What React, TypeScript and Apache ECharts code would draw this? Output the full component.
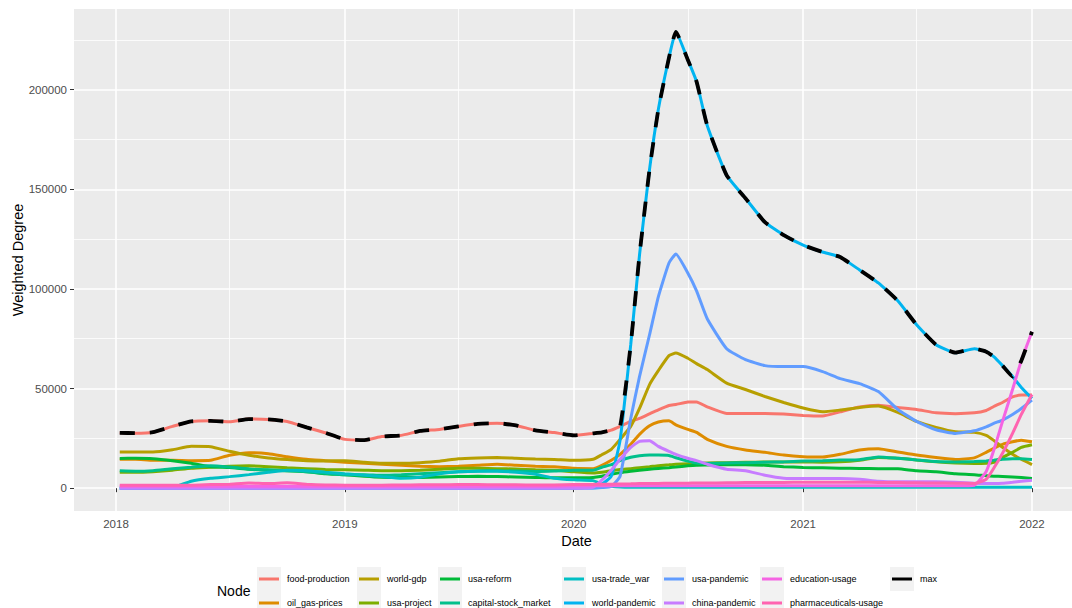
import React, { useEffect, useRef } from "react";
import * as echarts from "echarts";

const dates = [
  "2018-01-07", "2018-02-01", "2018-03-01", "2018-04-01", "2018-05-01", "2018-06-01",
  "2018-07-01", "2018-08-01", "2018-09-01", "2018-10-01", "2018-11-01", "2018-12-01",
  "2019-01-01", "2019-02-01", "2019-03-01", "2019-04-01", "2019-05-01", "2019-06-01",
  "2019-07-01", "2019-08-01", "2019-09-01", "2019-10-01", "2019-11-01", "2019-12-01",
  "2020-01-01", "2020-02-01", "2020-02-15", "2020-03-01", "2020-03-15", "2020-04-01",
  "2020-04-15", "2020-05-01", "2020-05-15", "2020-06-01", "2020-06-12", "2020-07-01",
  "2020-07-15", "2020-08-01", "2020-09-01", "2020-10-01", "2020-11-01", "2020-12-01",
  "2021-01-01", "2021-02-01", "2021-03-01", "2021-04-01", "2021-05-01", "2021-06-01",
  "2021-07-01", "2021-08-01", "2021-09-01", "2021-10-01", "2021-10-20", "2021-11-01",
  "2021-11-15", "2021-12-01", "2021-12-15", "2022-01-01",
];

const foodProduction = [
  27800, 27600, 28100, 31000, 33500, 33800, 33300, 34700, 34500, 33500, 30500, 27800,
  24500, 24100, 25900, 26500, 28700, 29500, 31000, 32300, 32600, 31500, 29000, 27900,
  26500, 27500, 28000, 29100, 31000, 33500, 35000, 37300, 39300, 41500, 42000, 43200,
  43300, 40800, 37500, 37500, 37500, 37200,
  36500, 36200, 38300, 40800, 41600, 40500, 39500, 37800, 37400, 37800, 39000, 41000,
  43000, 45800, 46700, 46800,
];
const oilGasPrices = [
  14500, 14500, 14000, 14000, 13800, 14000, 16500, 17800, 17300, 15800, 14500, 13800,
  13000, 12500, 12000, 11500, 11000, 10800, 11000, 11500, 12000, 11500, 11000, 10800,
  10000, 9800, 11500, 14000, 17000, 22000, 27000, 31300, 33200, 33800, 31800, 29500,
  28000, 24500, 21000, 19200, 18000, 16600,
  15800, 15600, 17000, 19200, 19800, 18200, 16600, 15400, 14400, 15200, 18000, 20000,
  22000, 23300, 24100, 23300,
];
const worldGdp = [
  18200, 18200, 18200, 19300, 21000, 20800, 18500, 16500, 15200, 14400, 13800, 13700,
  13800, 13000, 12500, 12500, 12800, 13500, 14800, 15200, 15400, 15000, 14600, 14400,
  14000, 14500, 16800, 19500, 24500, 31000, 40000, 52000, 59000, 66500, 67800, 65200,
  62500, 59500, 52700, 49500, 46000, 43000,
  40200, 38300, 39200, 40500, 41200, 38000, 33500, 30500, 28300, 28000, 26500, 24000,
  20500, 17000, 14500, 11800,
];
const usaProject = [
  8000, 8000, 8300, 9000, 10000, 10500, 11000, 11200, 10800, 10200, 9800, 9400,
  9200, 9000, 8800, 8800, 9000, 9500, 10000, 10000, 9800, 9600, 9200, 9000,
  8200, 7600, 8000, 8800, 9400, 9800, 10300, 10800, 11300, 11700, 12000, 12300,
  12400, 12600, 12800, 13000, 13100, 13200,
  13200, 13000, 13200, 14000, 15400, 15000, 14200, 13200, 12600, 12400, 12500, 13000,
  15500, 18000, 20500, 21800,
];
const usaReform = [
  14900, 15000, 14800, 13800, 12500, 10800, 10400, 9500, 9000, 8800, 8300, 7300,
  6800, 6000, 5500, 5400, 5400, 5600, 5800, 6000, 5800, 5600, 5400, 5200,
  5200, 5400, 6000, 7000, 7800, 8500, 9000, 9500, 9900, 10300, 10600, 11200,
  11500, 11600, 11800, 11800, 11500, 10800,
  10400, 10200, 10000, 9900, 9800, 9700, 8700, 8200, 7200, 6800, 6200, 6000,
  5900, 5600, 5300, 4900,
];
const capitalStockMarket = [
  8700, 8500, 8800, 9800, 10500, 11300, 10600, 9600, 9200, 8800, 8300, 7500,
  6800, 6800, 6500, 6800, 7300, 7800, 8200, 8600, 8800, 8600, 8400, 8600,
  9000, 9000, 10500, 11800, 13800, 15500, 16300, 16600, 16600, 16400, 15300, 13600,
  12600, 12400, 12600, 12800, 13000, 13200,
  13600, 13800, 14100, 14300, 15700, 15000, 14200, 13400, 13200, 13400, 13700, 14000,
  14500, 14800, 14800, 14400,
];
const usaTradeWar = [
  0, 0, 0, 300, 3500, 5000, 5800, 6800, 8000, 9000, 8800, 8000,
  7200, 6500, 5800, 5000, 5500, 7200, 8200, 8500, 8500, 8000, 7000, 5000,
  4200, 3800, 2000, 1000, 600, 500, 500, 500, 500, 500, 500, 500,
  500, 500, 500, 500, 500, 500,
  500, 500, 500, 500, 500, 500, 500, 500, 500, 500, 500, 500,
  500, 500, 500, 500,
];
const worldPandemic = [
  0, 0, 0, 0, 0, 0, 0, 0, 0, 0, 0, 0,
  0, 0, 0, 0, 0, 0, 0, 0, 0, 0, 0, 0,
  0, 800, 2000, 6000, 24000, 72000, 117000, 160000, 190000, 216000, 229000, 215000,
  204000, 182000, 157000, 145500, 133500, 127000,
  122000, 118500, 116000, 109500, 103000, 94000, 82000, 72000, 68000, 70000, 68500, 66000,
  61500, 56000, 50500, 45000,
];
const usaPandemic = [
  0, 0, 0, 0, 0, 0, 0, 0, 0, 0, 0, 0,
  0, 0, 0, 0, 0, 0, 0, 0, 0, 0, 0, 0,
  0, 0, 300, 800, 6000, 35000, 56000, 77000, 96000, 113000, 117500, 108000,
  99000, 85000, 70000, 64500, 61500, 61000,
  61000, 58500, 55000, 52500, 48500, 39500, 33500, 29300, 27500, 28800, 30800, 32500,
  34200, 37000, 40000, 44200,
];
const chinaPandemic = [
  0, 0, 0, 0, 0, 0, 0, 0, 0, 0, 0, 0,
  0, 0, 0, 0, 0, 0, 0, 0, 0, 0, 0, 0,
  0, 500, 4000, 9000, 14500, 20500, 23500, 23800, 21000, 18500, 17000, 15000,
  13800, 12000, 9500, 8800, 6500, 5000,
  4800, 4900, 4900, 4500, 3500, 3200, 3200, 3200, 3000, 2500, 2400, 2400,
  2500, 3000, 3500, 4000,
];
const educationUsage = [
  1000, 1000, 1000, 1000, 1000, 1000, 1000, 1000, 1000, 1000, 1000, 1000,
  1000, 1000, 1000, 1000, 1000, 1000, 1000, 1000, 1000, 1000, 1000, 1000,
  1200, 1200, 1200, 1200, 1200, 1200, 1200, 1200, 1200, 1200, 1200, 1200,
  1200, 1200, 1200, 1200, 1200, 1200,
  1200, 1200, 1200, 1200, 1200, 1200, 1200, 1200, 1200, 1500, 8400, 19000,
  33500, 49500, 64000, 78500,
];
const pharmaceuticalsUsage = [
  1500, 1500, 1500, 1500, 1500, 1800, 2000, 2600, 2300, 2700, 2000, 1600,
  1500, 1500, 1500, 1600, 1700, 1700, 1800, 1800, 1700, 1700, 1600, 1600,
  1800, 1900, 2000, 2000, 2100, 2200, 2300, 2400, 2400, 2500, 2500, 2500,
  2600, 2600, 2700, 2800, 2800, 2900,
  3000, 3000, 3000, 3000, 2900, 2800, 2700, 2600, 2500, 2400, 4500, 10000,
  17500, 27500, 37000, 47000,
];
const maxValues = [
  27800, 27600, 28100, 31000, 33500, 33800, 33300, 34700, 34500, 33500, 30500, 27800,
  24500, 24100, 25900, 26500, 28700, 29500, 31000, 32300, 32600, 31500, 29000, 27900,
  26500, 27500, 28000, 29100, 31000, 72000, 117000, 160000, 190000, 216000, 229000, 215000,
  204000, 182000, 157000, 145500, 133500, 127000,
  122000, 118500, 116000, 109500, 103000, 94000, 82000, 72000, 68000, 70000, 68500, 66000,
  61500, 56000, 64000, 78500,
];

const seriesNames = [
  "food-production", "oil_gas-prices", "world-gdp", "usa-project", "usa-reform",
  "capital-stock_market", "usa-trade_war", "world-pandemic", "usa-pandemic",
  "china-pandemic", "education-usage", "pharmaceuticals-usage", "max",
];
const seriesColors = [
  "#F8766D", "#DE8C00", "#B79F00", "#7CAE00", "#00BA38", "#00C08B", "#00BFC4",
  "#00B4F0", "#619CFF", "#C77CFF", "#F564E3", "#FF64B0", "#000000",
];

const yearTicks = ["2018-01-01", "2019-01-01", "2020-01-01", "2021-01-01", "2022-01-01"];
const halfYearTicks = ["2018-07-01", "2019-07-01", "2020-07-01", "2021-07-01"];
const xRange = ["2017-10-26", "2022-03-17"];
const yMajorTicks = [0, 50000, 100000, 150000, 200000];
const yMinorTicks = [25000, 75000, 125000, 175000, 225000];

const FONT = '"Liberation Sans", Arial, Helvetica, sans-serif';

// date string -> timestamp (UTC midnight)
const toTime = (s: string) => {
  const [y, m, d] = s.split("-").map(Number);
  return Date.UTC(y, m - 1, d);
};

export default function App() {
  const ref = useRef<HTMLDivElement>(null);

  useEffect(() => {
    if (!ref.current) return;
    const chart = echarts.init(ref.current, null, { renderer: "svg" });
    const allValues = [
      foodProduction, oilGasPrices, worldGdp, usaProject, usaReform, capitalStockMarket,
      usaTradeWar, worldPandemic, usaPandemic, chinaPandemic, educationUsage,
      pharmaceuticalsUsage, maxValues,
    ];

    const series = seriesNames.map((name, i) => ({
      name,
      type: "line",
      xAxisIndex: 0,
      yAxisIndex: 0,
      data: dates.map((d, j) => [toTime(d), allValues[i][j]]),
      symbol: "none",
      showSymbol: false,
      smooth: 0.15,
      color: seriesColors[i],
      silent: true,
      emphasis: { disabled: true },
      lineStyle: {
        color: seriesColors[i],
        width: name === "max" ? 3.8 : 3,
        type: name === "max" ? [15, 15] : "solid",
        cap: "butt",
      },
    }));

    const keyLefts = [259, 359, 440, 564, 664, 762, 892];
    const rowTops = [573, 597];
    const legends = seriesNames.map((name, i) => ({
      data: [name],
      left: keyLefts[Math.floor(i / 2)],
      top: rowTops[i % 2],
      padding: 0,
      icon: "rect",
      itemWidth: 20,
      itemHeight: 3,
      selectedMode: false,
      itemStyle: { borderWidth: 0 },
      textStyle: {
        fontFamily: FONT,
        fontSize: 9,
        color: "#000000",
        lineHeight: 12,
        padding: [0, 0, 0, 3],
      },
    }));

    const keyBoxes: any[] = seriesNames.map((_, i) => ({
      type: "rect",
      z: -1,
      shape: { x: keyLefts[Math.floor(i / 2)] - 2, y: 567 + (i % 2) * 24, width: 24, height: 24 },
      style: { fill: "#F2F2F2" },
    }));

    const xMin = toTime(xRange[0]);
    const xMax = toTime(xRange[1]);
    const yearVals = yearTicks.map(toTime);
    const halfVals = halfYearTicks.map(toTime);

    chart.setOption({
      animation: false,
      backgroundColor: "#FFFFFF",
      textStyle: { fontFamily: FONT },
      title: {
        text: "Node",
        left: 217,
        top: 584,
        padding: 0,
        textStyle: { fontFamily: FONT, fontSize: 14, fontWeight: "normal", color: "#000000" },
      },
      legend: legends,
      graphic: keyBoxes,
      grid: {
        left: 74,
        top: 9,
        width: 1005,
        height: 502,
        show: true,
        backgroundColor: "#EBEBEB",
        borderWidth: 0,
        containLabel: false,
        outerBoundsMode: "none",
      },
      xAxis: [
        {
          type: "value",
          min: xMin,
          max: xMax,
          position: "bottom",
          name: "Date",
          nameLocation: "middle",
          nameGap: 22,
          nameMoveOverlap: false,
          nameTextStyle: { fontFamily: FONT, fontSize: 14.5, color: "#000000" },
          axisLine: { show: false },
          axisTick: {
            show: true,
            length: 4,
            lineStyle: { color: "#333333", width: 1 },
            customValues: yearVals,
          },
          axisLabel: {
            customValues: yearVals,
            formatter: (v: number) => String(new Date(v).getUTCFullYear()),
            color: "#4D4D4D",
            fontSize: 11.5,
            fontFamily: FONT,
            margin: 7,
          },
          splitLine: { show: true, lineStyle: { color: "#FFFFFF", width: 1.6 } },
        },
        {
          type: "value",
          min: xMin,
          max: xMax,
          position: "bottom",
          axisLine: { show: false },
          axisTick: { show: false, customValues: halfVals },
          axisLabel: { show: false, customValues: halfVals },
          splitLine: { show: true, lineStyle: { color: "#FFFFFF", width: 0.8 } },
        },
      ],
      yAxis: [
        {
          type: "value",
          min: -11450,
          max: 240450,
          position: "left",
          name: "Weighted Degree",
          nameLocation: "middle",
          nameGap: 49,
          nameMoveOverlap: false,
          nameTextStyle: { fontFamily: FONT, fontSize: 14.5, color: "#000000" },
          axisLine: { show: false },
          axisTick: {
            show: true,
            length: 4,
            lineStyle: { color: "#333333", width: 1 },
            customValues: yMajorTicks,
          },
          axisLabel: {
            customValues: yMajorTicks,
            formatter: (v: number) => String(v),
            color: "#4D4D4D",
            fontSize: 11.5,
            fontFamily: FONT,
            margin: 7,
          },
          splitLine: { show: true, lineStyle: { color: "#FFFFFF", width: 1.6 } },
        },
        {
          type: "value",
          min: -11450,
          max: 240450,
          position: "left",
          axisLine: { show: false },
          axisTick: { show: false, customValues: yMinorTicks },
          axisLabel: { show: false, customValues: yMinorTicks },
          splitLine: { show: true, lineStyle: { color: "#FFFFFF", width: 0.8 } },
        },
      ],
      series,
    });

    return () => chart.dispose();
  }, []);

  return (
    <div
      ref={ref}
      style={{ position: "fixed", left: 0, top: 0, width: 1072, height: 608 }}
    />
  );
}
